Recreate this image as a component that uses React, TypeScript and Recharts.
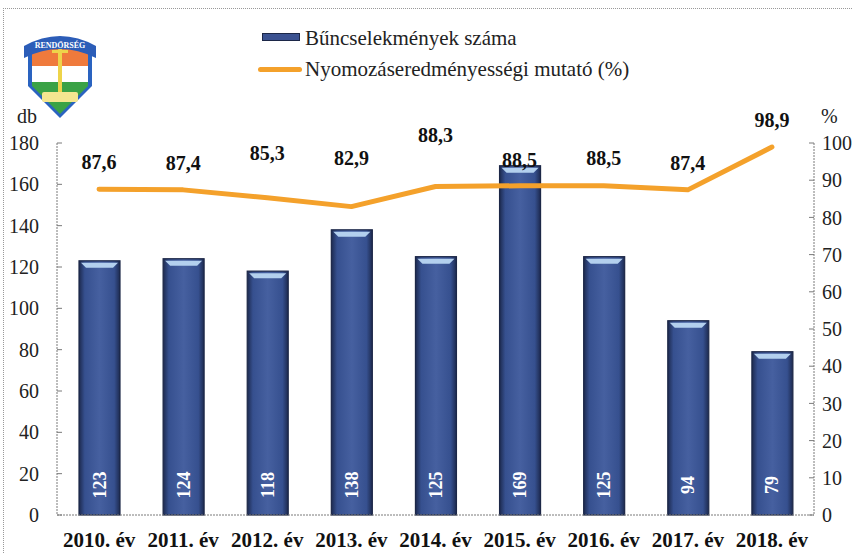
import React from 'react';
import { ComposedChart, Bar, Line, XAxis, YAxis, LabelList } from 'recharts';

const years = ['2010. év', '2011. év', '2012. év', '2013. év', '2014. év', '2015. év', '2016. év', '2017. év', '2018. év'];
const crimeCounts = [123, 124, 118, 138, 125, 169, 125, 94, 79];
const detectionRate = [87.6, 87.4, 85.3, 82.9, 88.3, 88.5, 88.5, 87.4, 98.9];
const leftTicks = [0, 20, 40, 60, 80, 100, 120, 140, 160, 180];
const rightTicks = [0, 10, 20, 30, 40, 50, 60, 70, 80, 90, 100];
const barName = 'Bűncselekmények száma';
const lineName = 'Nyomozáseredményességi mutató (%)';

// style: vertical lift (px) of each percentage label above its point
const labelLift = [27, 27, 45, 49, 52, 26, 28, 27, 27];

const data = years.map((y, i) => ({ year: y, count: crimeCounts[i], pct: detectionRate[i] }));

const FONT = "'Liberation Serif', 'Times New Roman', Times, 'DejaVu Serif', serif";
const BAR_COLOR = '#3b5291';
const LINE_COLOR = '#f4a12b';
const AXIS_COLOR = '#7a7a7a';

const BarShape = (props: any) => {
  const { x, y, width, height } = props;
  if (height <= 0) return null;
  const bev = 7;
  return (
    <g>
      <rect x={x} y={y} width={width} height={height} fill="url(#barGrad)" stroke="#1c2747" strokeWidth={1.2} />
      <polygon
        points={`${x + 2},${y + 2} ${x + width - 2},${y + 2} ${x + width - bev},${y + bev} ${x + bev},${y + bev}`}
        fill="#b3d0ee"
      />
    </g>
  );
};

const BarValueLabel = (props: any) => {
  const { x, y, width, height, value } = props;
  const cx = x + width / 2;
  const cy = y + height - 30;
  return (
    <text
      x={cx}
      y={cy}
      transform={`rotate(-90 ${cx} ${cy})`}
      textAnchor="middle"
      dominantBaseline="central"
      fill="#ffffff"
      style={{ fontFamily: FONT }}
      fontWeight="bold"
      fontSize={18}
    >
      {value}
    </text>
  );
};

const PctLabel = (props: any) => {
  const { x, y, index, value } = props;
  const lift = labelLift[index] ?? 27;
  return (
    <text
      x={x}
      y={y - lift}
      textAnchor="middle"
      dominantBaseline="central"
      fill="#111"
      style={{ fontFamily: FONT }}
      fontWeight="bold"
      fontSize={20}
    >
      {Number(value).toFixed(1).replace('.', ',')}
    </text>
  );
};

const Logo = () => (
  <svg width={80} height={95} viewBox="0 0 80 95" style={{ position: 'absolute', left: 20, top: 26 }}>
    <path d="M8 22 L8 60 L40 92 L72 60 L72 22 Z" fill="#2a63c0" />
    <path d="M12 22 L68 22 L68 40 L12 40 Z" fill="#ef7a3c" />
    <path d="M12 40 L68 40 L68 56 L12 56 Z" fill="#ffffff" />
    <path d="M12 56 L68 56 L68 60 L40 88 L12 60 Z" fill="#3aa245" />
    <rect x={38} y={12} width={4} height={62} fill="#eed44a" />
    <rect x={32} y={24} width={16} height={3} fill="#eed44a" />
    <rect x={22} y={66} width={36} height={10} rx={2} fill="#f4e690" />
    <path d="M4 20 Q40 0 76 20 L76 32 Q40 14 4 32 Z" fill="#2c5db8" />
    <text x={40} y={22} textAnchor="middle" fill="#ffffff" fontSize={8} fontWeight="bold" style={{ fontFamily: FONT }}>
      RENDŐRSÉG
    </text>
  </svg>
);

export default function App() {
  return (
    <div style={{ position: 'absolute', left: 0, top: 0, width: 853, height: 553, background: '#ffffff', overflow: 'hidden', fontFamily: FONT }}>
      <div style={{ position: 'absolute', left: 3, top: 8, width: 900, height: 600, borderLeft: '1px dotted #999', borderTop: '1px dotted #999' }} />
      <Logo />
      {/* legend */}
      <div style={{ position: 'absolute', left: 262, top: 33, width: 38, height: 8, background: BAR_COLOR, border: '1px solid #1c2747', boxSizing: 'border-box' }} />
      <div style={{ position: 'absolute', left: 305, top: 25, fontSize: 21, color: '#222', lineHeight: '26px', whiteSpace: 'nowrap' }}>{barName}</div>
      <div style={{ position: 'absolute', left: 258, top: 67, width: 44, height: 5, background: LINE_COLOR, borderRadius: 3 }} />
      <div style={{ position: 'absolute', left: 305, top: 56, fontSize: 21, color: '#222', lineHeight: '26px', whiteSpace: 'nowrap' }}>{lineName}</div>
      <div style={{ position: 'absolute', left: 17, top: 104, fontSize: 20, color: '#222', lineHeight: '24px' }}>db</div>
      <div style={{ position: 'absolute', left: 821, top: 104, fontSize: 20, color: '#222', lineHeight: '24px' }}>%</div>
      <div style={{ position: 'absolute', left: 0, top: 0 }}>
        <ComposedChart width={853} height={553} data={data} margin={{ top: 143, right: 0, bottom: 0, left: 0 }} style={{ fontFamily: FONT }}>
          <defs>
            <linearGradient id="barGrad" x1="0" y1="0" x2="1" y2="0">
              <stop offset="0%" stopColor="#1d2a4f" />
              <stop offset="14%" stopColor="#36508f" />
              <stop offset="50%" stopColor="#4660a0" />
              <stop offset="86%" stopColor="#36508f" />
              <stop offset="100%" stopColor="#1d2a4f" />
            </linearGradient>
          </defs>
          <XAxis
            dataKey="year"
            height={38}
            tickLine={false}
            tickSize={0}
            tickMargin={17}
            axisLine={{ stroke: AXIS_COLOR, strokeDasharray: '2 1' }}
            tick={{ fill: '#111', fontSize: 21, fontWeight: 'bold', style: { fontFamily: FONT } }}
            interval={0}
          />
          <YAxis
            yAxisId="left"
            orientation="left"
            width={57}
            domain={[0, 180]}
            ticks={leftTicks}
            interval={0}
            tickSize={-5}
            tickMargin={23}
            axisLine={{ stroke: AXIS_COLOR, strokeDasharray: '2 1' }}
            tickLine={{ stroke: AXIS_COLOR }}
            tick={{ fill: '#222', fontSize: 20, style: { fontFamily: FONT } }}
          />
          <YAxis
            yAxisId="right"
            orientation="right"
            width={39}
            domain={[0, 100]}
            ticks={rightTicks}
            interval={0}
            tickSize={-5}
            tickMargin={13}
            axisLine={{ stroke: AXIS_COLOR, strokeDasharray: '2 1' }}
            tickLine={{ stroke: AXIS_COLOR }}
            tick={{ fill: '#222', fontSize: 20, textAnchor: 'start', style: { fontFamily: FONT } }}
          />
          <Bar yAxisId="left" dataKey="count" name={barName} barSize={41} shape={<BarShape />} isAnimationActive={false}>
            <LabelList dataKey="count" content={<BarValueLabel />} />
          </Bar>
          <Line
            yAxisId="right"
            dataKey="pct"
            name={lineName}
            type="linear"
            stroke={LINE_COLOR}
            strokeWidth={5}
            strokeLinecap="round"
            strokeLinejoin="round"
            dot={false}
            activeDot={false}
            isAnimationActive={false}
          >
            <LabelList dataKey="pct" content={<PctLabel />} />
          </Line>
        </ComposedChart>
      </div>
    </div>
  );
}
